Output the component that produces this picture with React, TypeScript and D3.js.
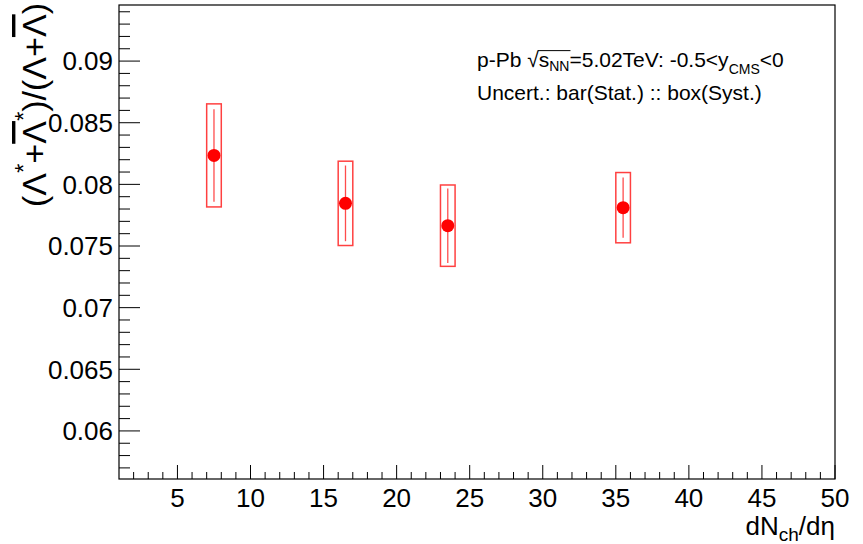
import React, { useLayoutEffect, useRef, useState } from "react";
import * as d3 from "d3";

// Multiplicity bins (dN_ch/dη) and the ratio measured in each
const multiplicity = [7.5, 16.5, 23.5, 35.5];
const ratio = [0.08235, 0.07846, 0.07665, 0.07811];
const statErr = [0.00375, 0.00307, 0.00302, 0.00245];
const systErr = [0.00418, 0.00342, 0.0033, 0.00285];

const xMajorTicks = [5, 10, 15, 20, 25, 30, 35, 40, 45, 50];
const yMajorTicks = [0.06, 0.065, 0.07, 0.075, 0.08, 0.085, 0.09];

const W = 863;
const H = 544;
const FRAME = { left: 119, right: 835, top: 5, bottom: 479 };
const FONT = "'Liberation Sans', Arial, Helvetica, sans-serif";
const RED = "#ff0000";
const LEGEND_SIZE = 21;

export default function App() {
  const x = d3.scaleLinear().domain([1, 50]).range([FRAME.left, FRAME.right]);
  const y = d3.scaleLinear().domain([0.0561, 0.09455]).range([FRAME.bottom, FRAME.top]);

  const xMinor = d3.range(2, 50, 1).filter((v) => v % 5 !== 0);
  const yMinor = d3
    .range(57, 95, 1)
    .map((v) => v / 1000)
    .filter((v) => Math.round(v * 1000) % 5 !== 0 && v <= 0.09455 && v >= 0.0561);

  const fmtY = (v: number) => String(+v.toFixed(3));
  const boxHalf = 0.5;

  // radical bar over s_NN, measured from the rendered glyphs
  const sRef = useRef<SVGTSpanElement>(null);
  const nnRef = useRef<SVGTSpanElement>(null);
  const [bar, setBar] = useState<[number, number] | null>(null);
  useLayoutEffect(() => {
    if (sRef.current && nnRef.current) {
      const x0 = sRef.current.getStartPositionOfChar(0).x;
      const x1 = nnRef.current.getEndPositionOfChar(1).x;
      setBar([x0 - 1, x1 + 1]);
    }
  }, []);

  return (
    <svg
      width={W}
      height={H}
      style={{ position: "absolute", left: 0, top: 0, background: "#fff" }}
      fontFamily={FONT}
    >
      {/* frame */}
      <rect
        x={FRAME.left}
        y={FRAME.top}
        width={FRAME.right - FRAME.left}
        height={FRAME.bottom - FRAME.top}
        fill="none"
        stroke="#000"
        strokeWidth={1.2}
      />

      {/* y axis ticks */}
      {yMajorTicks.map((v) => (
        <g key={"ym" + v}>
          <line x1={FRAME.left} x2={FRAME.left + 21} y1={y(v)} y2={y(v)} stroke="#000" strokeWidth={1} />
          <text
            x={FRAME.left - 6}
            y={y(v)}
            dy="0.36em"
            textAnchor="end"
            fontSize={26}
            fill="#000"
          >
            {fmtY(v)}
          </text>
        </g>
      ))}
      {yMinor.map((v) => (
        <line key={"yn" + v} x1={FRAME.left} x2={FRAME.left + 11} y1={y(v)} y2={y(v)} stroke="#000" strokeWidth={1} />
      ))}

      {/* x axis ticks */}
      {xMajorTicks.map((v) => (
        <g key={"xm" + v}>
          <line x1={x(v)} x2={x(v)} y1={FRAME.bottom} y2={FRAME.bottom - 14} stroke="#000" strokeWidth={1} />
          <text x={x(v)} y={507} textAnchor="middle" fontSize={26} fill="#000">
            {v}
          </text>
        </g>
      ))}
      {xMinor.map((v) => (
        <line key={"xn" + v} x1={x(v)} x2={x(v)} y1={FRAME.bottom} y2={FRAME.bottom - 7} stroke="#000" strokeWidth={1} />
      ))}

      {/* axis titles */}
      <text x={FRAME.right} y={535} textAnchor="end" fontSize={26} fill="#000">
        dN<tspan fontSize={19} dy={6}>ch</tspan>
        <tspan dy={-6}>/dη</tspan>
      </text>
      <text transform={`translate(46, 3) rotate(-90)`} textAnchor="end" fontSize={34} fill="#000">
        (Λ<tspan fontSize={24} dy={-14}>*</tspan>
        <tspan dy={14}>+</tspan>
        <tspan style={{ textDecoration: "overline" }}>Λ</tspan>
        <tspan fontSize={24} dy={-14}>*</tspan>
        <tspan dy={14}>)/(Λ+</tspan>
        <tspan style={{ textDecoration: "overline" }}>Λ</tspan>)
      </text>

      {/* systematic boxes */}
      {multiplicity.map((m, i) => (
        <rect
          key={"sys" + i}
          x={x(m - boxHalf)}
          y={y(ratio[i] + systErr[i])}
          width={x(m + boxHalf) - x(m - boxHalf)}
          height={y(ratio[i] - systErr[i]) - y(ratio[i] + systErr[i])}
          fill="none"
          stroke={RED}
          strokeOpacity={0.75}
          strokeWidth={1.5}
        />
      ))}

      {/* statistical bars */}
      {multiplicity.map((m, i) => (
        <line
          key={"stat" + i}
          x1={x(m)}
          x2={x(m)}
          y1={y(ratio[i] + statErr[i])}
          y2={y(ratio[i] - statErr[i])}
          stroke={RED}
          strokeOpacity={0.7}
          strokeWidth={1.3}
        />
      ))}

      {/* data points */}
      {multiplicity.map((m, i) => (
        <circle key={"pt" + i} cx={x(m)} cy={y(ratio[i])} r={6.5} fill={RED} />
      ))}

      {/* legend */}
      <text x={477} y={67} fontSize={LEGEND_SIZE} fill="#000">
        p-Pb √<tspan ref={sRef}>s</tspan>
        <tspan ref={nnRef} fontSize={14} dy={4}>NN</tspan>
        <tspan dy={-4}>=5.02TeV: -0.5&lt;y</tspan>
        <tspan fontSize={14} dy={7}>CMS</tspan>
        <tspan dy={-7}>&lt;0</tspan>
      </text>
      {bar && (
        <line x1={bar[0]} x2={bar[1]} y1={67 - LEGEND_SIZE * 0.78} y2={67 - LEGEND_SIZE * 0.78} stroke="#000" strokeWidth={1} />
      )}
      <text x={477} y={100} fontSize={LEGEND_SIZE} fill="#000">
        Uncert.: bar(Stat.) :: box(Syst.)
      </text>
    </svg>
  );
}
